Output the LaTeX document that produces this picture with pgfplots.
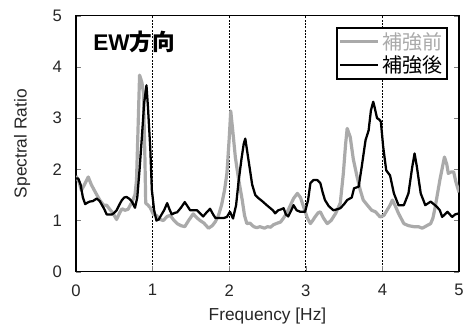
\documentclass[border=0pt]{standalone}
\usepackage{fontspec}
\setmainfont{Liberation Sans}
\newfontfamily\cjk{Noto Sans CJK JP}
\usepackage{pgfplots}
\pgfplotsset{compat=1.18}
\definecolor{lgray}{RGB}{170,170,170}
\begin{document}
\begin{tikzpicture}
\begin{axis}[
  name=ax,
  scale only axis,
  width=287.25pt, height=192pt,
  xmin=0, xmax=5, ymin=0, ymax=5,
  xtick={0,1,2,3,4,5}, ytick={0,1,2,3,4,5},
  tick align=inside,
  xtick pos=bottom,
  ytick pos=both,
  major tick length=4pt,
  xmajorgrids,
  grid style={black, dash pattern=on 1.5pt off 1pt, line width=0.6pt},
  axis line style={black, line width=1.1pt},
  /pgf/number format/assume math mode=true,
  ticklabel style={font=\fontsize{12.5}{14}\selectfont, text=black!85},
  xticklabel style={yshift=-6pt},
  yticklabel style={xshift=-7pt},
  xlabel={Frequency [Hz]},
  ylabel={Spectral Ratio},
  label style={font=\fontsize{13}{15}\selectfont, text=black!85},
  xlabel style={yshift=-2pt},
  ylabel style={yshift=10pt},
  legend style={at={(0.9705,0.957)}, anchor=north east, draw=black, line width=1.5pt,
    font=\fontsize{15}{16.5}\selectfont\cjk, inner sep=1.5pt, row sep=-1pt,
    /tikz/every even column/.append style={column sep=0pt}},
  legend cell align=left,
  legend image code/.code={\draw[#1] (0pt,0pt) -- (28pt,0pt);},
  clip=true,
]
\addplot[lgray, line width=2.4pt, line join=round] coordinates {
(0,1.87)(0.04,1.75)(0.07,1.59)(0.11,1.7)(0.16,1.85)(0.2,1.7)(0.25,1.56)(0.31,1.4)
(0.36,1.3)(0.4,1.3)(0.44,1.22)(0.48,1.15)(0.53,1.02)(0.57,1.15)(0.6,1.23)(0.64,1.2)
(0.68,1.22)(0.73,1.36)(0.77,1.5)(0.79,1.79)(0.81,2.8)(0.83,3.84)(0.86,3.7)(0.88,3.5)
(0.9,2.2)(0.91,1.34)(0.94,1.3)(0.97,1.25)(1.01,1.12)(1.05,1.1)(1.1,1.02)(1.14,1.0)
(1.19,1.08)(1.23,1.1)(1.28,1.0)(1.32,0.94)(1.37,0.9)(1.42,0.88)(1.47,1.0)(1.53,1.13)
(1.58,1.05)(1.62,1.0)(1.67,0.95)(1.73,0.85)(1.78,0.9)(1.82,0.98)(1.86,1.1)(1.9,1.3)
(1.94,1.6)(1.97,1.92)(2.0,2.6)(2.02,3.14)(2.05,2.7)(2.08,2.24)(2.12,1.83)(2.17,1.4)
(2.2,1.1)(2.23,0.94)(2.27,0.95)(2.32,0.88)(2.36,0.86)(2.4,0.88)(2.46,0.85)(2.5,0.88)
(2.54,0.87)(2.58,0.92)(2.63,0.95)(2.67,0.97)(2.71,1.05)(2.75,1.14)(2.8,1.3)(2.84,1.43)
(2.89,1.53)(2.93,1.45)(2.97,1.27)(3.02,1.05)(3.06,0.94)(3.09,1.0)(3.12,1.07)(3.16,1.15)
(3.19,1.17)(3.23,1.05)(3.28,0.94)(3.33,1.0)(3.39,1.14)(3.45,1.34)(3.49,1.92)(3.52,2.5)
(3.54,2.8)(3.58,2.63)(3.62,2.2)(3.67,1.85)(3.71,1.6)(3.75,1.4)(3.82,1.27)(3.86,1.2)
(3.91,1.17)(3.97,1.07)(4.02,1.1)(4.06,1.2)(4.1,1.3)(4.13,1.4)(4.17,1.28)(4.21,1.14)
(4.28,0.94)(4.34,0.9)(4.41,0.88)(4.47,0.88)(4.52,0.85)(4.58,0.9)(4.63,0.94)(4.66,1.05)
(4.69,1.27)(4.75,1.79)(4.81,2.24)(4.84,2.1)(4.86,1.92)(4.9,1.95)(4.93,1.95)(4.96,1.75)
(5.0,1.55)
};
\addlegendentry{\textcolor{lgray}{補強前}}
\addplot[black, line width=1.7pt, line join=round] coordinates {
(0,1.82)(0.03,1.82)(0.06,1.7)(0.09,1.45)(0.12,1.32)(0.15,1.35)(0.18,1.37)(0.22,1.38)
(0.27,1.43)(0.31,1.38)(0.34,1.3)(0.37,1.22)(0.4,1.12)(0.44,1.12)(0.47,1.12)(0.5,1.15)
(0.53,1.2)(0.57,1.32)(0.6,1.4)(0.63,1.45)(0.66,1.46)(0.7,1.42)(0.73,1.37)(0.77,1.25)
(0.8,1.45)(0.83,2.0)(0.86,2.63)(0.89,3.3)(0.92,3.64)(0.94,3.2)(0.97,2.4)(0.99,1.6)
(1.02,1.2)(1.05,1.0)(1.08,1.02)(1.11,1.1)(1.15,1.2)(1.19,1.34)(1.22,1.22)(1.25,1.12)
(1.29,1.15)(1.32,1.16)(1.37,1.25)(1.42,1.36)(1.46,1.27)(1.49,1.2)(1.54,1.2)(1.58,1.2)
(1.62,1.14)(1.66,1.08)(1.7,1.15)(1.75,1.23)(1.79,1.12)(1.82,1.05)(1.87,1.05)(1.93,1.05)
(1.97,1.07)(2.01,1.17)(2.05,1.04)(2.09,1.3)(2.12,1.73)(2.16,2.2)(2.19,2.5)(2.21,2.6)
(2.24,2.3)(2.27,2.0)(2.3,1.7)(2.34,1.5)(2.38,1.44)(2.43,1.38)(2.49,1.3)(2.53,1.25)
(2.57,1.2)(2.6,1.14)(2.64,1.2)(2.68,1.22)(2.71,1.24)(2.74,1.12)(2.77,1.08)(2.81,1.2)
(2.84,1.3)(2.88,1.2)(2.93,1.17)(2.99,1.17)(3.03,1.4)(3.06,1.73)(3.1,1.79)(3.15,1.79)
(3.19,1.73)(3.22,1.55)(3.25,1.4)(3.3,1.28)(3.36,1.2)(3.41,1.22)(3.45,1.24)(3.5,1.32)
(3.54,1.4)(3.6,1.45)(3.63,1.63)(3.69,1.66)(3.73,2.05)(3.78,2.57)(3.82,2.76)(3.85,3.15)
(3.88,3.32)(3.9,3.2)(3.93,3.0)(3.96,2.97)(3.98,2.93)(4.01,2.44)(4.05,1.98)(4.1,1.88)
(4.15,1.53)(4.21,1.3)(4.28,1.3)(4.34,1.53)(4.39,2.05)(4.42,2.31)(4.45,2.05)(4.5,1.53)
(4.56,1.3)(4.63,1.37)(4.71,1.27)(4.75,1.2)(4.78,1.07)(4.85,1.17)(4.91,1.07)(4.95,1.12)
(5.0,1.14)
};
\addlegendentry{補強後}
\node[font=\fontsize{17}{19}\selectfont\bfseries, anchor=center] at (axis cs:0.76,4.48) {EW{\cjk\bfseries 方向}};
\end{axis}
\pgfresetboundingbox
\path ([shift={(-57pt,-43.1pt)}]ax.south west) rectangle ([shift={(9.75pt,11.8pt)}]ax.north east);
\end{tikzpicture}
\end{document}
